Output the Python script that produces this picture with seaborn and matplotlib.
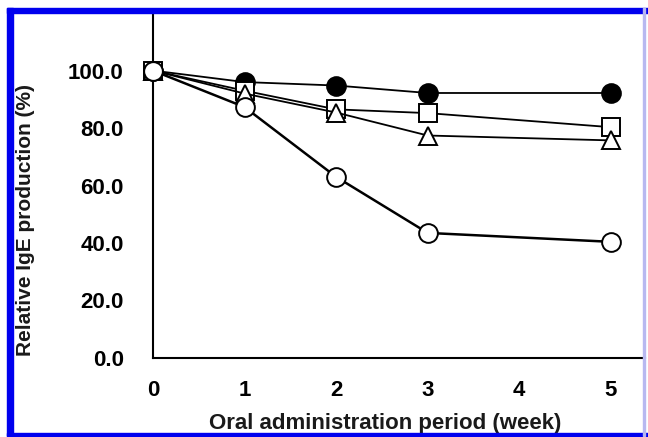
import matplotlib
matplotlib.use("Agg")
import matplotlib.pyplot as plt
import seaborn as sns
import pandas as pd
from matplotlib.patches import Rectangle

# values
weeks = [0, 1, 2, 3, 5]
filled_circle = [100.0, 96.0, 94.8, 92.2, 92.2]
open_square = [100.0, 93.0, 86.5, 85.2, 80.3]
open_triangle = [100.0, 92.0, 85.4, 77.4, 75.7]
open_circle = [100.0, 87.3, 63.0, 43.5, 40.4]

y_ticks = [0, 20, 40, 60, 80, 100]
y_tick_labels = ["0.0", "20.0", "40.0", "60.0", "80.0", "100.0"]
x_ticks = [0, 1, 2, 3, 4, 5]

sns.set_style("white")
plt.rcParams['font.family'] = ['Liberation Sans', 'DejaVu Sans']

fig = plt.figure(figsize=(6.48, 4.37), dpi=100)
ax = fig.add_axes([0.236, 0.181, 0.759, 0.789])

series = [
    (filled_circle, 'o', 'black', 1.3),
    (open_square, 's', 'white', 1.3),
    (open_triangle, '^', 'white', 1.3),
    (open_circle, 'o', 'white', 1.8),
]
for values, marker, face, lw in series:
    df = pd.DataFrame({'week': weeks, 'value': values})
    sns.lineplot(data=df, x='week', y='value', ax=ax, color='black',
                 linewidth=lw, marker=marker, markersize=13.5,
                 markerfacecolor=face, markeredgecolor='black',
                 markeredgewidth=1.4, clip_on=False, zorder=3)

ax.set_xlim(0, 5.37)
ax.set_ylim(0, 120)
ax.set_xticks(x_ticks)
ax.set_yticks(y_ticks)
ax.set_yticklabels(y_tick_labels)
ax.tick_params(axis='both', direction='in', length=6, width=1.3,
               labelsize=16, colors='black')
ax.tick_params(axis='y', pad=21)
ax.tick_params(axis='x', pad=16)
for lab in ax.get_xticklabels() + ax.get_yticklabels():
    lab.set_fontweight('bold')

for side in ['top', 'right']:
    ax.spines[side].set_visible(False)
for side in ['left', 'bottom']:
    ax.spines[side].set_linewidth(1.5)
    ax.spines[side].set_color('black')

ax.set_xlabel('')
ax.set_ylabel('')
fig.text(0.595, 0.018, 'Oral administration period (week)', ha='center',
         va='baseline', fontsize=16, fontweight='bold', color='#1a1a1a')
fig.text(0.039, 0.497, 'Relative IgE production (%)', rotation=90,
         ha='center', va='center', fontsize=15, fontweight='bold',
         color='#1a1a1a')

# blue frame around the figure
blue = '#0000ee'
fig.patches.append(Rectangle((7 / 648, 1 - 436 / 437), 6 / 648, 428 / 437,
                             transform=fig.transFigure, color=blue, zorder=10))
fig.patches.append(Rectangle((7 / 648, 1 - 13 / 437), 641 / 648, 5 / 437,
                             transform=fig.transFigure, color=blue, zorder=10))
fig.patches.append(Rectangle((7 / 648, 1 - 436 / 437), 641 / 648, 3 / 437,
                             transform=fig.transFigure, color=blue, zorder=10))
fig.patches.append(Rectangle((643 / 648, 1 - 436 / 437), 2 / 648, 428 / 437,
                             transform=fig.transFigure, color='#b8b8f0', zorder=10))

fig.savefig('out.png', dpi=100)
plt.close(fig)
